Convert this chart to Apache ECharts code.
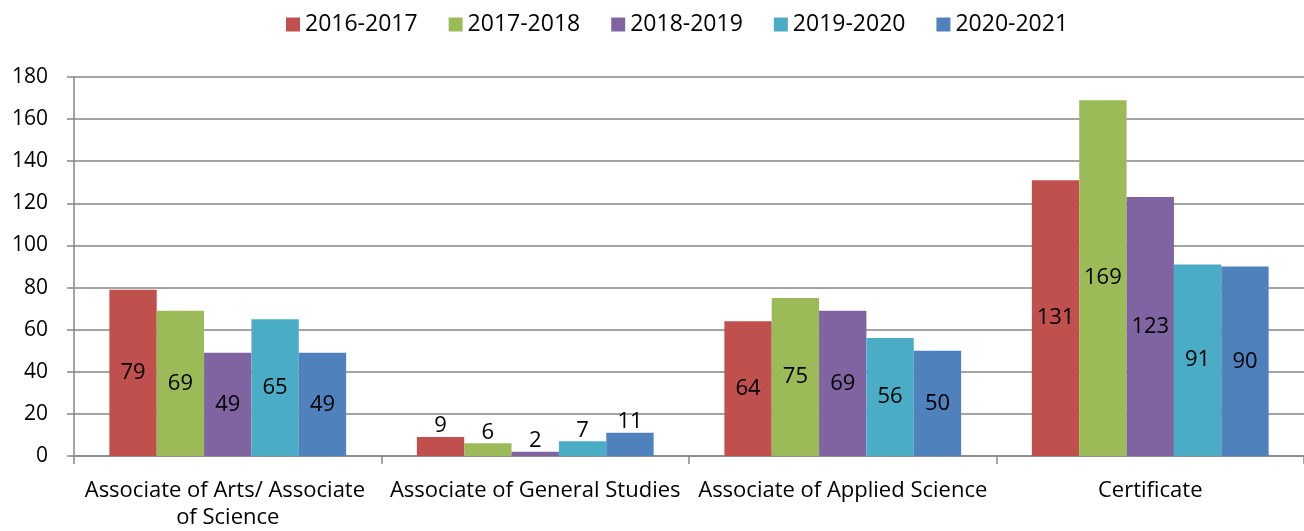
<!DOCTYPE html>
<html>
<head>
<meta charset="utf-8">
<script src="https://cdn.jsdelivr.net/npm/echarts@6/dist/echarts.min.js"></script>
<style>
  html, body { margin: 0; padding: 0; background: #fff; }
  #chart { width: 1304px; height: 531px; }
</style>
</head>
<body>
<div id="chart"></div>
<script>
const categories = [
  "Associate of Arts/ Associate of Science",
  "Associate of General Studies",
  "Associate of Applied Science",
  "Certificate"
];
const years = ["2016-2017", "2017-2018", "2018-2019", "2019-2020", "2020-2021"];
const y2016 = [79, 9, 64, 131];
const y2017 = [69, 6, 75, 169];
const y2018 = [49, 2, 69, 123];
const y2019 = [65, 7, 56, 91];
const y2020 = [49, 11, 50, 90];
const yTicks = [0, 20, 40, 60, 80, 100, 120, 140, 160, 180];

const colors = ["#C0504D", "#9BBB59", "#8064A2", "#4BACC6", "#4F81BD"];
const font = "Open Sans";

const chart = echarts.init(document.getElementById("chart"));

// small bars get the label on top, the rest in the middle
function makeData(values) {
  return values.map(v => ({
    value: v,
    label: { position: v < 20 ? "top" : "inside", distance: 0 }
  }));
}

const seriesList = [y2016, y2017, y2018, y2019, y2020].map((vals, i) => ({
  name: years[i],
  type: "bar",
  data: makeData(vals),
  barGap: "0%",
  barCategoryGap: "23%",
  itemStyle: { color: colors[i] },
  label: {
    show: true,
    color: "#000",
    fontFamily: font,
    fontSize: 22
  }
}));

chart.setOption({
  animation: false,
  textStyle: { fontFamily: font },
  legend: {
    top: 8,
    left: 281,
    itemWidth: 14,
    itemHeight: 14,
    itemGap: 31,
    icon: "rect",
    textStyle: { fontFamily: font, fontSize: 23, color: "#000" },
    data: years
  },
  grid: { left: 74, top: 77, width: 1240, height: 382 },
  xAxis: {
    type: "category",
    data: categories,
    axisLine: { lineStyle: { color: "#868686", width: 1.5 } },
    axisTick: { show: true, length: 8, lineStyle: { color: "#868686", width: 1.5 } },
    axisLabel: {
      color: "#000",
      fontFamily: font,
      fontSize: 22,
      margin: 21,
      lineHeight: 27,
      width: 300,
      overflow: "break",
      interval: 0
    }
  },
  yAxis: {
    type: "value",
    min: yTicks[0],
    max: yTicks[yTicks.length - 1],
    interval: 20,
    axisLine: { show: true, lineStyle: { color: "#868686", width: 1.5 } },
    axisTick: { show: true, length: 7, lineStyle: { color: "#868686", width: 1.5 } },
    splitLine: { show: true, lineStyle: { color: "#868686", width: 1.5 } },
    axisLabel: { color: "#000", fontFamily: font, fontSize: 21, margin: 26 }
  },
  series: seriesList
});
</script>
</body>
</html>
